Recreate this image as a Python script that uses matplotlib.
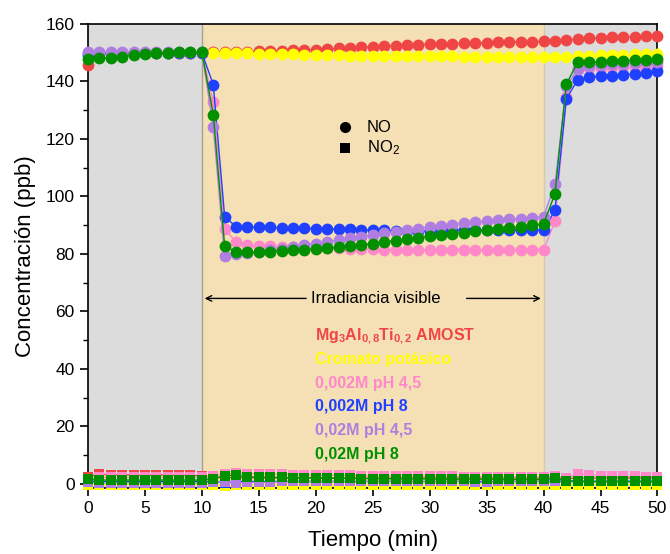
import matplotlib.pyplot as plt
from matplotlib.ticker import MultipleLocator

# ---- data ----
tiempo = list(range(0, 51))

no_mg3al = [145.8, 149.5, 150.0, 150.0, 150.0, 150.0, 150.0, 150.0, 150.0, 150.0,
            150.0, 150.2, 150.3, 150.3, 150.4, 150.5, 150.6, 150.7, 150.8, 151.0,
            151.1, 151.3, 151.5, 151.7, 151.9, 152.1, 152.3, 152.5, 152.6, 152.8,
            153.0, 153.1, 153.2, 153.3, 153.4, 153.5, 153.6, 153.7, 153.8, 153.9,
            154.0, 154.1, 154.3, 154.7, 155.0, 155.2, 155.4, 155.5, 155.6, 155.7,
            155.8]
no_cromato = [150.0, 150.0, 150.0, 150.0, 150.0, 150.0, 150.0, 150.0, 150.0, 150.0,
              150.0, 150.0, 150.0, 149.9, 149.8, 149.7, 149.6, 149.5, 149.4, 149.3,
              149.2, 149.1, 149.1, 149.0, 149.0, 149.0, 148.9, 148.9, 148.8, 148.8,
              148.8, 148.7, 148.7, 148.6, 148.6, 148.6, 148.5, 148.5, 148.4, 148.4,
              148.4, 148.4, 148.5, 148.9, 149.0, 149.1, 149.2, 149.3, 149.4, 149.5,
              149.6]
no_002_45 = [150.0, 150.0, 150.0, 150.0, 150.0, 150.0, 150.0, 150.0, 150.0, 150.0,
             150.0, 133.0, 88.8, 84.0, 83.0, 82.8, 82.6, 82.4, 82.3, 82.2,
             82.1, 82.0, 81.9, 81.8, 81.7, 81.6, 81.5, 81.4, 81.4, 81.4,
             81.4, 81.4, 81.4, 81.4, 81.4, 81.4, 81.4, 81.4, 81.4, 81.4,
             81.4, 91.3, 134.5, 144.5, 144.7, 144.8, 144.9, 145.0, 145.1, 145.2,
             145.3]
no_002_8 = [149.2, 150.0, 150.0, 150.0, 150.0, 150.0, 150.0, 150.0, 150.0, 150.0,
            150.0, 138.9, 92.9, 89.5, 89.4, 89.3, 89.2, 89.1, 89.0, 88.9,
            88.8, 88.7, 88.6, 88.5, 88.4, 88.3, 88.2, 88.0, 87.9, 88.0,
            88.1, 88.2, 88.2, 88.3, 88.3, 88.3, 88.3, 88.3, 88.3, 88.3,
            88.3, 95.2, 134.0, 140.6, 141.5, 141.8, 142.0, 142.3, 142.7, 142.9,
            143.5]
no_02_45 = [150.3, 150.3, 150.3, 150.3, 150.3, 150.3, 150.3, 150.3, 150.3, 150.3,
            150.3, 124.3, 79.1, 79.8, 80.3, 80.8, 81.3, 81.8, 82.4, 83.0,
            83.6, 84.2, 84.8, 85.4, 86.0, 86.6, 87.2, 87.7, 88.3, 88.8,
            89.3, 89.8, 90.2, 90.6, 91.0, 91.4, 91.7, 92.0, 92.3, 92.6,
            92.9, 104.2, 138.5, 144.2, 145.5, 145.8, 146.0, 146.2, 146.4, 146.6,
            146.8]
no_02_8 = [147.9, 148.2, 148.2, 148.6, 149.1, 149.5, 149.9, 150.0, 150.2, 150.3,
           150.3, 128.5, 82.8, 80.7, 80.5, 80.6, 80.8, 81.0, 81.2, 81.5,
           81.7, 82.0, 82.3, 82.7, 83.1, 83.6, 84.1, 84.6, 85.1, 85.6,
           86.1, 86.6, 87.0, 87.4, 87.8, 88.2, 88.6, 89.0, 89.4, 89.9,
           90.5, 100.9, 139.2, 146.6, 146.7, 146.8, 147.0, 147.2, 147.4, 147.6,
           147.8]

no2_mg3al = [2.5, 3.3, 3.2, 3.2, 3.1, 3.0, 3.0, 3.2, 3.0, 2.9,
             2.8, 2.2, 2.1, 2.1, 2.1, 2.0, 2.0, 2.0, 2.0, 2.0,
             2.0, 2.0, 2.0, 2.0, 2.0, 2.0, 2.0, 2.0, 2.0, 2.0,
             2.0, 2.0, 2.0, 2.0, 2.0, 2.0, 2.0, 2.0, 2.0, 2.0,
             2.0, 2.0, 1.8, 2.0, 2.0, 2.0, 2.0, 2.0, 2.0, 2.0,
             2.0]
no2_cromato = [-0.3, -0.3, -0.3, -0.3, -0.3, -0.3, -0.3, -0.3, -0.3, -0.3,
               -0.3, -0.5, -0.8, -0.4, -0.4, -0.4, -0.4, -0.4, -0.4, -0.4,
               -0.4, -0.4, -0.4, -0.4, -0.4, -0.4, -0.4, -0.4, -0.4, -0.4,
               -0.4, -0.4, -0.4, -0.4, -0.4, -0.4, -0.4, -0.4, -0.4, -0.4,
               -0.4, -0.3, -0.3, -0.3, -0.3, -0.3, -0.3, -0.3, -0.3, -0.3,
               -0.3]
no2_002_45 = [1.8, 2.2, 2.2, 2.2, 2.2, 2.2, 2.2, 2.2, 2.2, 2.2,
              2.2, 2.8, 3.3, 3.8, 3.5, 3.5, 3.4, 3.3, 3.2, 3.1,
              3.0, 3.0, 2.9, 2.9, 2.8, 2.8, 2.8, 2.7, 2.7, 2.7,
              2.6, 2.6, 2.6, 2.5, 2.5, 2.5, 2.5, 2.4, 2.4, 2.4,
              2.4, 2.6, 2.0, 3.5, 3.0, 2.8, 2.7, 2.6, 2.6, 2.5,
              2.5]
no2_002_8 = [1.0, 0.8, 0.8, 0.8, 0.8, 0.8, 0.8, 0.8, 0.8, 0.8,
             0.8, 0.8, 0.3, 0.8, 0.8, 0.8, 0.8, 0.8, 0.8, 0.8,
             0.8, 0.8, 0.8, 0.8, 0.8, 0.8, 0.8, 0.8, 0.8, 0.8,
             0.8, 0.8, 0.8, 0.8, 0.8, 0.8, 0.8, 0.8, 0.8, 0.8,
             0.8, 0.8, 0.8, 0.8, 0.8, 0.8, 0.8, 0.8, 0.8, 0.8,
             0.8]
no2_02_45 = [0.5, 0.3, 0.3, 0.3, 0.3, 0.3, 0.3, 0.3, 0.3, 0.3,
             0.3, 0.5, 0.6, 0.2, 0.5, 0.5, 0.5, 0.8, 0.8, 0.8,
             0.8, 0.8, 0.8, 0.8, 0.8, 0.8, 0.8, 0.8, 0.8, 0.8,
             0.8, 0.8, 0.8, 0.8, 0.5, 0.5, 0.8, 0.8, 0.8, 0.8,
             0.8, 1.0, 1.0, 1.0, 0.8, 0.8, 0.8, 0.8, 0.8, 0.8,
             0.8]
no2_02_8 = [1.6, 1.3, 1.3, 1.3, 1.3, 1.3, 1.3, 1.3, 1.3, 1.3,
            1.3, 1.8, 2.8, 3.0, 2.4, 2.3, 2.3, 2.2, 2.1, 2.1,
            2.0, 1.9, 1.9, 1.9, 1.8, 1.8, 1.8, 1.7, 1.7, 1.7,
            1.7, 1.6, 1.6, 1.6, 1.6, 1.6, 1.5, 1.5, 1.5, 1.5,
            1.5, 1.9, 1.1, 0.8, 0.8, 0.8, 0.8, 0.8, 0.8, 0.8,
            0.8]

etiquetas = ['Mg$_\\mathbf{3}$Al$_\\mathbf{0,8}$Ti$_\\mathbf{0,2}$ AMOST',
             'Cromato potásico', '0,002M pH 4,5', '0,002M pH 8',
             '0,02M pH 4,5', '0,02M pH 8']
colores = ['#f04545', '#ffff00', '#ff88c8', '#2040ff', '#b07ee0', '#009000']

series_no = [no_mg3al, no_cromato, no_002_45, no_002_8, no_02_45, no_02_8]
series_no2 = [no2_mg3al, no2_cromato, no2_002_45, no2_002_8, no2_02_45, no2_02_8]

# ---- estilo ----
plt.rcParams['font.family'] = ['Liberation Sans', 'DejaVu Sans']
plt.rcParams['mathtext.fontset'] = 'custom'
plt.rcParams['mathtext.rm'] = 'Liberation Sans'
plt.rcParams['mathtext.bf'] = 'Liberation Sans:bold'
plt.rcParams['mathtext.it'] = 'Liberation Sans:italic'

fig = plt.figure(figsize=(6.7, 5.54), dpi=100)
ax = fig.add_axes([0.1313, 0.1190, 0.8500, 0.8377])

# zonas oscuridad / irradiacion
ax.axvspan(0, 10, color='#dcdcdc', lw=0, zorder=0)
ax.axvspan(10, 40, color='#f5e0b5', lw=0, zorder=0)
ax.axvspan(40, 50, color='#dcdcdc', lw=0, zorder=0)
ax.axvline(10, color='#a8a090', lw=1.0, zorder=0.5)
ax.axvline(40, color='#d8c8a8', lw=1.0, zorder=0.5)

for no, c in zip(series_no, colores):
    ax.plot(tiempo, no, '-o', color=c, lw=1.0, ms=8.5, mew=0, clip_on=False, zorder=3)
for no2, c in zip(series_no2, colores):
    ax.plot(tiempo, no2, '-s', color=c, lw=1.0, ms=7.5, mew=0, clip_on=False, zorder=3)

ax.set_xlim(0, 50)
ax.set_ylim(-1.5, 160)
ax.xaxis.set_major_locator(MultipleLocator(5))
ax.yaxis.set_major_locator(MultipleLocator(20))
ax.yaxis.set_minor_locator(MultipleLocator(10))
ax.tick_params(axis='both', which='major', labelsize=12.5, length=6, width=1.2, direction='out')
ax.tick_params(axis='y', which='minor', length=3.5, width=1.0, direction='out')
for s in ax.spines.values():
    s.set_linewidth(1.2)

ax.set_xlabel('Tiempo (min)', fontsize=16, labelpad=10)
ax.set_ylabel('Concentración (ppb)', fontsize=16, labelpad=7)

# leyenda de marcadores NO / NO2
ax.plot([22.6], [124], 'o', color='black', ms=8, mew=0, zorder=4)
ax.plot([22.6], [117], 's', color='black', ms=7, mew=0, zorder=4)
ax.text(24.5, 124, 'NO', fontsize=12, va='center', ha='left')
ax.text(24.5, 117, 'NO$_2$', fontsize=12, va='center', ha='left')

# irradiancia visible
ax.text(25.3, 64.5, 'Irradiancia visible', fontsize=12, ha='center', va='center')
ax.annotate('', xy=(10, 64.5), xytext=(19.4, 64.5),
            arrowprops=dict(arrowstyle='->', color='black', lw=1.0))
ax.annotate('', xy=(40, 64.5), xytext=(33.0, 64.5),
            arrowprops=dict(arrowstyle='->', color='black', lw=1.0))

# etiquetas de las muestras
y_etq = [51.5, 43.2, 34.9, 26.9, 18.6, 10.3]
for txt, c, yy in zip(etiquetas, colores, y_etq):
    ax.text(19.9, yy, txt, color=c, fontsize=11.5, fontweight='bold',
            ha='left', va='center')

plt.savefig('out.png', dpi=100)
